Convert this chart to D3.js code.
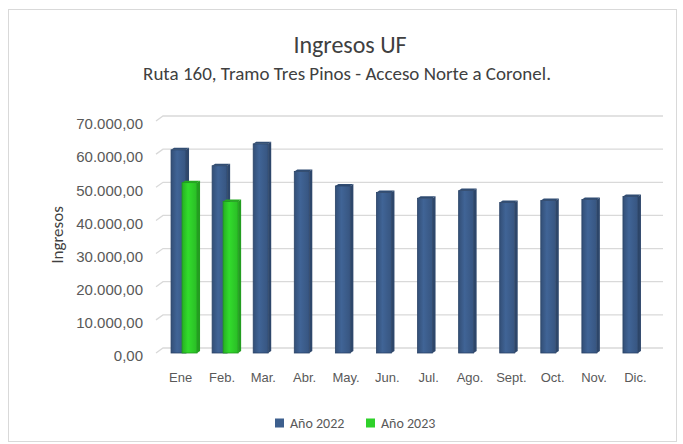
<!DOCTYPE html>
<html>
<head>
<meta charset="utf-8">
<script src="https://cdn.jsdelivr.net/npm/d3@7"></script>
<style>
  html, body { margin: 0; padding: 0; background: #fff; }
  svg { display: block; font-family: Calibri, Carlito, Lato, "Open Sans", sans-serif; }
</style>
</head>
<body>
<svg id="chart" width="683" height="444"></svg>
<script>
const categories = ["Ene.", "Feb.", "Mar.", "Abr.", "May.", "Jun.", "Jul.", "Ago.", "Sept.", "Oct.", "Nov.", "Dic."];
const catLabels = ["Ene", "Feb.", "Mar.", "Abr.", "May.", "Jun.", "Jul.", "Ago.", "Sept.", "Oct.", "Nov.", "Dic."];
const values2022 = [61300, 56500, 63100, 54800, 50400, 48400, 46700, 49000, 45400, 46000, 46300, 47200];
const values2023 = [51400, 45700, null, null, null, null, null, null, null, null, null, null];
const yTicks = [0, 10000, 20000, 30000, 40000, 50000, 60000, 70000];
const seriesNames = ["Año 2022", "Año 2023"];
const colors = ["#3d5f8e", "#2fd12a"];
const strokes = ["#2a4366", "#1f9a1c"];

const svg = d3.select("#chart");
const defs = svg.append("defs");

// outer border
svg.append("rect").attr("x", 8.5).attr("y", 9.5).attr("width", 668).attr("height", 432)
  .attr("fill", "#fff").attr("stroke", "#d9d9d9").attr("stroke-width", 1);

// titles
svg.append("text").attr("x", 350).attr("y", 53).attr("text-anchor", "middle")
  .attr("font-size", 24).attr("fill", "#404040").text("Ingresos UF");
svg.append("text").attr("x", 347).attr("y", 80).attr("text-anchor", "middle")
  .attr("font-size", 19).attr("fill", "#404040").text("Ruta 160, Tramo Tres Pinos - Acceso Norte a Coronel.");

// scales
const depth = { dx: 7, dy: -5 };
const yFront = d3.scaleLinear().domain([0, 70000]).range([353, 121]);
const yBack = v => yFront(v) + depth.dy;
const x = d3.scaleBand().domain(categories).range([158, 651]).paddingInner(0).paddingOuter(0);
const xLab = x.copy().range([160, 656]);

// gridlines (back wall with small floor slant)
const grid = svg.append("g");
yTicks.forEach(t => {
  grid.append("path")
    .attr("d", `M${x.range()[0] - 2},${yFront(t)} L${x.range()[0] + depth.dx - 2},${yBack(t)} L${663},${yBack(t)}`)
    .attr("fill", "none").attr("stroke", "#d9d9d9").attr("stroke-width", 1.3);
});

// y axis labels
const yAxis = d3.axisLeft(yFront).tickValues(yTicks).tickSize(0).tickPadding(0)
  .tickFormat(d => d3.format(",.2f")(d).replace(/,/g, "#").replace(".", ",").replace(/#/g, "."));
const ya = svg.append("g").attr("transform", "translate(143,3)").call(yAxis);
ya.select(".domain").remove();
ya.selectAll("text").attr("font-size", 15).attr("fill", "#595959").attr("font-family", null);

// y axis title
svg.append("text").attr("transform", "translate(63,235) rotate(-90)").attr("text-anchor", "middle")
  .attr("font-size", 17).attr("fill", "#404040").text("Ingresos");

// x axis labels
const xAxis = d3.axisBottom(xLab).tickSize(0).tickPadding(0).tickFormat((d, i) => catLabels[i]);
const xa = svg.append("g").attr("transform", "translate(0,373)").call(xAxis);
xa.select(".domain").remove();
xa.selectAll("text").attr("font-size", 13).attr("fill", "#595959").attr("font-family", null);

// gradients
colors.forEach((col, s) => {
  const g = defs.append("linearGradient").attr("id", "grad" + s).attr("x1", "0").attr("x2", "1").attr("y1", "0").attr("y2", "0");
  const c = d3.color(col);
  g.append("stop").attr("offset", "0%").attr("stop-color", c.darker(0.5));
  g.append("stop").attr("offset", "40%").attr("stop-color", c.brighter(0.15));
  g.append("stop").attr("offset", "100%").attr("stop-color", c.darker(0.3));
});

// bars
const barW = 15;
const offsets = [-7.5, 3.5];
const data = [];
[values2022, values2023].forEach((arr, s) => {
  arr.forEach((v, i) => { if (v != null) data.push({ s, cat: categories[i], v }); });
});
const bars = svg.append("g");
data.forEach(d => {
  const cx = x(d.cat) + x.bandwidth() / 2 + offsets[d.s];
  const top = yFront(d.v), base = yFront(0);
  const g = bars.append("g");
  const c = d3.color(colors[d.s]);
  g.append("path")
    .attr("d", `M${cx + barW},${base} L${cx + barW + 3},${base - 2} L${cx + barW + 3},${top - 2} L${cx + barW},${top} Z`)
    .attr("fill", c.darker(0.8));
  g.append("path")
    .attr("d", `M${cx},${top} L${cx + 3},${top - 2} L${cx + barW + 3},${top - 2} L${cx + barW},${top} Z`)
    .attr("fill", c.darker(0.6));
  g.append("rect").attr("x", cx).attr("y", top).attr("width", barW).attr("height", base - top)
    .attr("fill", `url(#grad${d.s})`).attr("stroke", strokes[d.s]).attr("stroke-width", 0.8);
});

// legend
const legend = svg.append("g").attr("transform", "translate(0,423)");
const legX = [275, 366];
seriesNames.forEach((n, i) => {
  legend.append("rect").attr("x", legX[i]).attr("y", -4.5).attr("width", 9).attr("height", 9).attr("fill", colors[i]);
  legend.append("text").attr("x", legX[i] + 15).attr("y", 5).attr("font-size", 14).attr("fill", "#595959").text(n);
});
</script>
</body>
</html>
